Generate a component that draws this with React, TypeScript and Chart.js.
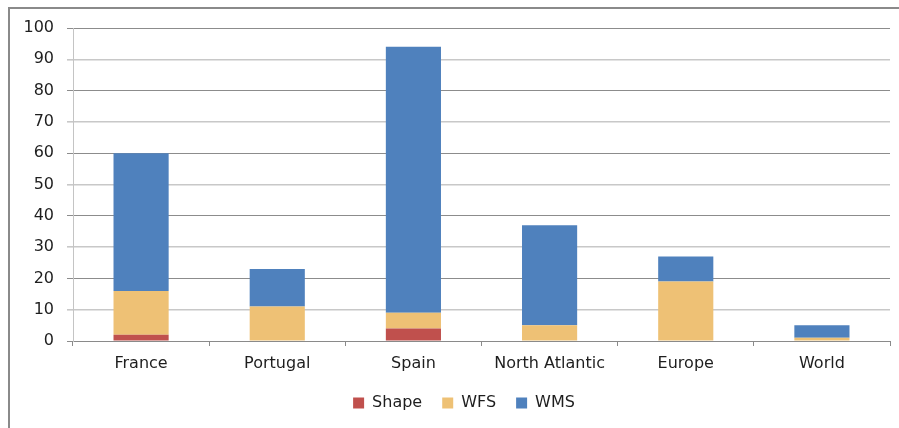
import React, { useEffect, useRef } from "react";
import { Chart, registerables } from "chart.js";

Chart.register(...registerables);

const categories = ["France", "Portugal", "Spain", "North Atlantic", "Europe", "World"];
const shapeValues = [2, 0, 4, 0, 0, 0];
const wfsValues = [14, 11, 5, 5, 19, 1];
const wmsValues = [44, 12, 85, 32, 8, 4];
const yTicks = [0, 10, 20, 30, 40, 50, 60, 70, 80, 90, 100];

const FONT = "'DejaVu Sans', sans-serif";
const TEXT = "#1e1e1e";

// Centre the legend under the span from x=38 to the right edge of the plot.
const legendShift = {
  id: "legendShift",
  afterLayout(chart: any) {
    if (chart.legend) chart.legend.left = 38;
  },
};

export default function App() {
  const canvasRef = useRef<HTMLCanvasElement | null>(null);

  useEffect(() => {
    if (!canvasRef.current) return;
    const chart = new Chart(canvasRef.current, {
      type: "bar",
      data: {
        labels: categories,
        datasets: [
          { label: "Shape", data: shapeValues, backgroundColor: "#C0504D", borderWidth: 0 },
          { label: "WFS", data: wfsValues, backgroundColor: "#EEC175", borderWidth: 0 },
          { label: "WMS", data: wmsValues, backgroundColor: "#4F81BD", borderWidth: 0 },
        ],
      },
      options: {
        animation: false,
        responsive: true,
        maintainAspectRatio: false,
        layout: { padding: { left: 0, right: 9, top: 28, bottom: 7 } },
        datasets: { bar: { categoryPercentage: 1, barPercentage: 0.405 } },
        plugins: {
          tooltip: { enabled: false },
          legend: {
            position: "bottom",
            labels: {
              boxWidth: 11,
              boxHeight: 11,
              padding: 20,
              color: TEXT,
              font: { family: FONT, size: 16 },
            },
          },
        },
        scales: {
          x: {
            stacked: true,
            afterFit: (scale: any) => {
              scale.height = 34;
            },
            grid: {
              offset: true,
              drawOnChartArea: false,
              drawTicks: true,
              tickLength: 5,
              color: "#8a8a8a",
            },
            border: { color: "#8a8a8a", width: 1 },
            ticks: {
              padding: 8,
              color: TEXT,
              font: { family: FONT, size: 16 },
              maxRotation: 0,
            },
          },
          y: {
            stacked: true,
            min: 0,
            max: 100,
            afterFit: (scale: any) => {
              scale.width = 73;
            },
            afterBuildTicks: (scale: any) => {
              scale.ticks = yTicks.map((v) => ({ value: v }));
            },
            grid: {
              drawTicks: true,
              tickLength: 6,
              color: (ctx: any) =>
                ctx.tick && ctx.tick.value % 20 === 0 ? "#8c8c8c" : "#c8c8c8",
              lineWidth: (ctx: any) => (ctx.tick && ctx.tick.value % 20 === 0 ? 1 : 1.6),
            },
            border: { color: "#c4c4c4", width: 1 },
            ticks: {
              padding: 13,
              color: TEXT,
              font: { family: FONT, size: 16 },
            },
          },
        },
      },
      plugins: [legendShift],
    });
    return () => chart.destroy();
  }, []);

  return (
    <div
      style={{
        position: "fixed",
        left: 0,
        top: 0,
        width: 899,
        height: 428,
        background: "#fff",
        overflow: "hidden",
      }}
    >
      <div
        style={{
          position: "absolute",
          left: 8,
          top: 7,
          width: 900,
          height: 430,
          borderTop: "2px solid #8a8a8a",
          borderLeft: "2px solid #8a8a8a",
        }}
      />
      <div style={{ position: "absolute", left: 0, top: 0, width: 899, height: 428 }}>
        <canvas ref={canvasRef} />
      </div>
    </div>
  );
}
